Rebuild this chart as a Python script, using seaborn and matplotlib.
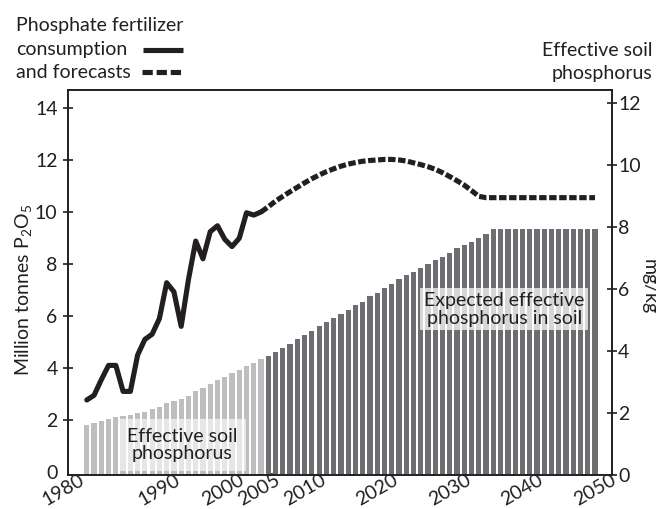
import matplotlib
matplotlib.use("Agg")
import matplotlib.pyplot as plt
import matplotlib.transforms as mtrans
from matplotlib.lines import Line2D
import numpy as np
import pandas as pd
import seaborn as sns

# ---------------- data ----------------
years = list(range(1980, 2051))
soil_p = [1.61, 1.67, 1.74, 1.80, 1.86, 1.90, 1.95, 1.99, 2.04, 2.14,
          2.20, 2.31, 2.39, 2.46, 2.56, 2.71, 2.80, 2.94, 3.06, 3.15,
          3.28, 3.39, 3.52, 3.62, 3.75,
          3.85, 3.96, 4.09, 4.24, 4.38, 4.51, 4.65, 4.81, 4.95, 5.07,
          5.19, 5.32, 5.47, 5.59, 5.77, 5.88, 6.02, 6.16, 6.32, 6.44,
          6.55, 6.67, 6.81, 6.94, 7.04, 7.17, 7.31, 7.43, 7.53, 7.63,
          7.76, 7.95, 7.95, 7.95, 7.95, 7.95, 7.95, 7.95, 7.95, 7.95,
          7.95, 7.95, 7.95, 7.95, 7.95, 7.95]
period = ["Effective soil phosphorus" if y < 2005 else "Expected effective phosphorus in soil"
          for y in years]

obs_years = list(range(1980, 2005))
consumption = [2.77, 2.95, 3.55, 4.1, 4.1, 3.1, 3.1, 4.5, 5.1, 5.3,
               5.9, 7.28, 6.93, 5.6, 7.4, 8.88, 8.2, 9.24, 9.47, 8.95,
               8.67, 8.99, 9.97, 9.88, 10.0]

fc_years = list(range(2004, 2051))
forecast = [10.0, 10.2, 10.42, 10.6, 10.78, 10.95, 11.12, 11.28, 11.42, 11.55,
            11.66, 11.76, 11.84, 11.9, 11.95, 11.98, 12.0, 12.02, 12.02, 12.0,
            11.96, 11.89, 11.82, 11.74, 11.64, 11.51, 11.36, 11.2, 11.03, 10.82,
            10.6, 10.55, 10.55, 10.55, 10.55, 10.55, 10.55, 10.55, 10.55, 10.55,
            10.55, 10.55, 10.55, 10.55, 10.55, 10.55, 10.55]

xtick_years = [1980, 1990, 2000, 2005, 2010, 2020, 2030, 2040, 2050]
left_ticks = [0, 2, 4, 6, 8, 10, 12, 14]
right_ticks = [0, 2, 4, 6, 8, 10, 12]

# ---------------- style ----------------
sns.set_theme(style="white")
plt.rcParams["font.family"] = ["Lato", "DejaVu Sans"]
plt.rcParams["mathtext.default"] = "regular"
FS = 14
INK = "#231f20"
LIGHT = "#bcbec0"
DARK = "#6d6e71"

fig = plt.figure(figsize=(6.56, 5.09), dpi=100)
W, H = 656, 509
ax = fig.add_axes([68 / W, (H - 475) / H, 544 / W, 385 / H])

df = pd.DataFrame({"year": years, "soil": soil_p, "period": period})
sns.barplot(data=df, x="year", y="soil", hue="period",
            palette={"Effective soil phosphorus": LIGHT,
                     "Expected effective phosphorus in soil": DARK},
            native_scale=True, dodge=False, width=0.72, saturation=1,
            linewidth=0, legend=False, ax=ax)

ax2 = ax.twinx()
sns.lineplot(x=obs_years, y=consumption, ax=ax2, color=INK, lw=3.7)
sns.lineplot(x=fc_years, y=forecast, ax=ax2, color=INK, lw=3.7)
ax2.lines[-1].set_linestyle((0, (1.45, 0.5)))

# axes limits
ax.set_xlim(1977.41, 2052.34)
ax.set_ylim(0, 12.42)
ax2.set_ylim(-0.115, 14.69)

# right axis (bars, mg/kg)
ax.yaxis.tick_right()
ax.yaxis.set_label_position("right")
ax.set_yticks(right_ticks)
ax.set_yticklabels([str(t) for t in right_ticks])
ax.tick_params(axis="y", direction="inout", length=7, width=1.2, colors=INK,
               labelsize=FS, pad=1, right=True, left=False)
ax.set_ylabel("mg/kg", rotation=270, va="bottom", fontsize=FS, color=INK)
ax.yaxis.set_label_coords(1.052, 0.49)

# left axis (line, million tonnes)
ax2.yaxis.tick_left()
ax2.yaxis.set_label_position("left")
ax2.set_yticks(left_ticks)
ax2.set_yticklabels([str(t) for t in left_ticks])
ax2.tick_params(axis="y", direction="inout", length=7, width=1.2, colors=INK,
                labelsize=FS, pad=4, left=True, right=False)
ax2.yaxis.get_major_ticks()[0].tick1line.set_visible(False)
ax2.set_ylabel("Million tonnes P$_2$O$_5$", fontsize=FS, color=INK)
ax2.yaxis.set_label_coords(-0.062, 0.48)

# x axis
ax.set_xticks(xtick_years)
ax.set_xticklabels([str(y) for y in xtick_years], rotation=30, ha="center",
                   fontsize=FS, color=INK)
ax.tick_params(axis="x", length=0, pad=-2.5)
ax.set_xlabel("")
ax2.set_xlabel("")
labels = ax.get_xticklabels()
labels[0].set_ha("right")
for i in (2, 3):
    labels[i].set_transform(labels[i].get_transform() +
                            mtrans.ScaledTranslation(-9 / 100, 0, fig.dpi_scale_trans))

for a in (ax, ax2):
    for s in a.spines.values():
        s.set_visible(True)
        s.set_color(INK)
        s.set_linewidth(1.2)
ax.grid(False)
ax2.grid(False)

# in-plot labels
ax.text(1993.1, 0.97, "Effective soil\nphosphorus", ha="center", va="center",
        fontsize=FS, color=INK, zorder=5, linespacing=1.05,
        bbox=dict(boxstyle="square,pad=0.45", facecolor="white", alpha=0.62,
                  edgecolor="none"))
ax.text(2037.5, 5.35, "Expected effective\nphosphorus in soil", ha="center",
        va="center", fontsize=FS, color=INK, zorder=5, linespacing=1.05,
        bbox=dict(boxstyle="square,pad=0.2", facecolor="white", alpha=0.72,
                  edgecolor="none"))

# legend block (top left)
def fy(py):
    return 1 - py / H

fig.text(16 / W, fy(30.5), "Phosphate fertilizer", ha="left", va="baseline",
         fontsize=FS, color=INK)
fig.text(16 / W, fy(55), "consumption", ha="left", va="baseline",
         fontsize=FS, color=INK)
fig.text(16 / W, fy(78), "and forecasts", ha="left", va="baseline",
         fontsize=FS, color=INK)
fig.add_artist(Line2D([143 / W, 183 / W], [fy(49.5), fy(49.5)],
                      transform=fig.transFigure, color=INK, lw=3.7,
                      solid_capstyle="butt"))
fig.add_artist(Line2D([142 / W, 183 / W], [fy(72), fy(72)],
                      transform=fig.transFigure, color=INK, lw=3.7,
                      linestyle=(0, (2.0, 0.75))))

# right-top axis title
fig.text(652 / W, fy(56.5), "Effective soil", ha="right", va="baseline",
         fontsize=FS, color=INK)
fig.text(652 / W, fy(79.5), "phosphorus", ha="right", va="baseline",
         fontsize=FS, color=INK)

fig.savefig("out.png", dpi=100)
